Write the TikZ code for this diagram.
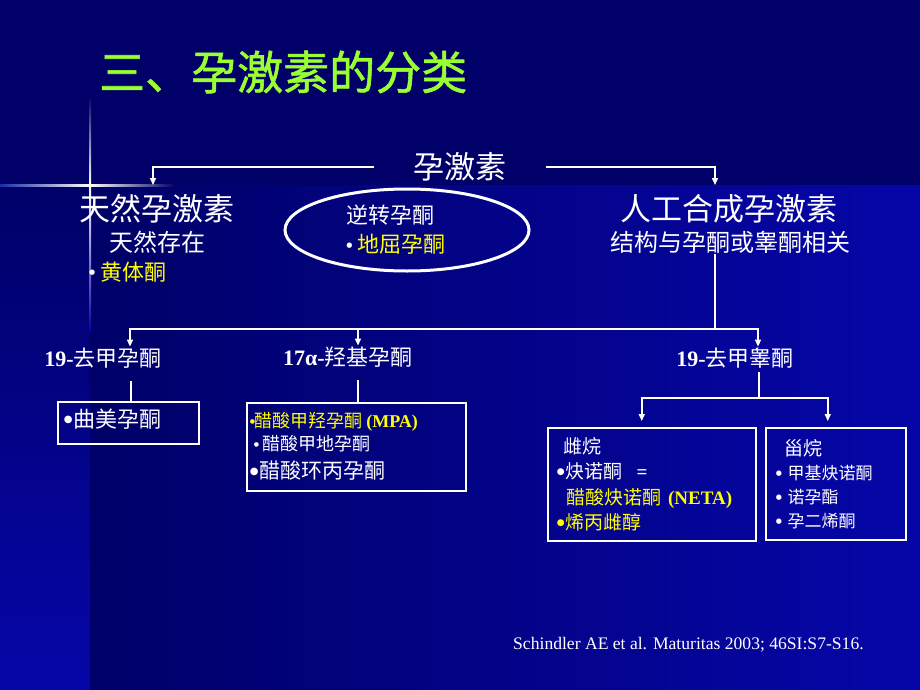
\documentclass[tikz,border=0pt]{standalone}
\usepackage{fontspec}
\setmainfont{Liberation Serif}
\newfontfamily\cjk{Noto Sans CJK SC}
\newfontfamily\cjktitle[FakeBold=1.2]{Noto Sans CJK SC}
\newfontfamily\symf{DejaVu Sans}
\usetikzlibrary{shapes.geometric,arrows.meta}
\setlength{\parindent}{0pt}
\definecolor{navy}{RGB}{0,0,104}
\definecolor{deepblue}{RGB}{6,6,168}
\definecolor{glowblue}{RGB}{60,110,255}
\definecolor{titlegreen}{RGB}{153,255,51}
\definecolor{hiyellow}{RGB}{255,255,0}
\newcommand{\latb}[1]{{\rmfamily\bfseries #1}}
\newcommand{\fs}[2]{\fontsize{#1}{#2}\selectfont}
% bullet: size, raise
\newcommand{\bul}[2]{\raisebox{#2}{\symf\fontsize{#1}{#1}\selectfont ●}}
\tikzset{
  cn/.style={font=\cjk, text=white, inner sep=1pt},
  bigcn/.style={cn, font=\cjk\fs{31}{36}, inner ysep=9pt},
  subcn/.style={cn, font=\cjk\fs{24}{28}},
  kind/.style={cn, font=\cjk\fs{22}{26}},
  wire/.style={draw=white, line width=1.5pt},
  arr/.style={wire, -{Triangle[length=7pt,width=6pt]}},
  listbox/.style={draw=white, line width=1.5pt, text=white, anchor=north west,
    inner ysep=0pt},
}
\begin{document}
\begin{tikzpicture}[x=1pt,y=-1pt]
  \useasboundingbox (0,0) rectangle (920,690);
  %background
  \fill[navy] (0,0) rectangle (920,690);
  \shade[left color=navy, right color=deepblue] (90,185) rectangle (920,690);
  \shade[top color=navy, bottom color=deepblue] (0,185) rectangle (90,690);
  %glowing cross
  \shade[left color=navy!60!glowblue, right color=white] (0,184.5) rectangle (90,186.5);
  \shade[left color=white, right color=navy] (90,184.5) rectangle (175,186.5);
  \shade[top color=navy, bottom color=white] (89,95) rectangle (91,185);
  \shade[top color=white, bottom color=deepblue] (89,185) rectangle (91,330);

  %title
  \node[anchor=west, font=\cjktitle\fs{46}{50}, text=titlegreen, inner sep=0pt]
    (title) at (99,72) {三、孕激素的分类};

  %top level
  \node[bigcn, inner xsep=39pt, inner ysep=1pt] (root) at (460,167) {孕激素};
  \node[bigcn, anchor=north] (nat) at (157,185) {天然孕激素};
  \node[subcn] (nat2) at (157,242) {天然存在};
  \node[kind, anchor=west] (nat3) at (88,272) {\bul{7}{5.8pt} \textcolor{hiyellow}{黄体酮}};
  \node[bigcn, anchor=north] (syn) at (729,185) {人工合成孕激素};
  \node[subcn] (syn2) at (730,242) {结构与孕酮或睾酮相关};

  %retro-progesterone
  \node[ellipse, draw=white, line width=3pt, minimum width=244pt, minimum height=82pt,
    inner sep=0pt, align=left, text=white, font=\cjk\fs{22}{29}] (retro) at (407,230)
    {逆转孕酮\\\bul{7}{5.8pt} \textcolor{hiyellow}{地屈孕酮}\hspace*{22pt}};

  \draw[arr] (root.west) -| ([xshift=-4pt]nat.north);
  \draw[arr] (root.east) -| ([xshift=-14pt]syn.north);

  %synthetic branches
  \coordinate (bus) at (715,329);
  \node[kind] (c19a) at (103,358) {\latb{19-}去甲孕酮};
  \node[kind] (c17) at (348,357) {\latb{17α-}羟基孕酮};
  \node[kind] (c19b) at (735,358) {\latb{19-}去甲睾酮};
  \draw[wire] (syn2.south -| bus) -- (bus);
  \draw[arr] (bus) -| ([xshift=27pt]c19a.north);
  \draw[arr] (bus) -| ([xshift=10pt]c17.north);
  \draw[arr] (bus) -| ([xshift=23pt]c19b.north);

  %boxes
  \node[listbox, text width=129pt, inner xsep=6pt, minimum height=42pt, font=\cjk\fs{22}{26}]
    (b1) at (57,401) {\bul{10}{4.6pt}\hspace{1.5pt}曲美孕酮\vspace*{8pt}};
  \node[listbox, text width=213pt, inner xsep=3pt, minimum height=88pt, font=\cjk]
    (b2) at (246,402)
    {\fs{18}{23}\textcolor{hiyellow}{\bul{6}{4.6pt}醋酸甲羟孕酮 \latb{(MPA)}}\par
     \fs{18}{23}\hspace*{4pt}\bul{6}{4.6pt} 醋酸甲地孕酮\par
     \fs{21}{28}\bul{10}{4.4pt}\hspace{1pt}醋酸环丙孕酮\par};
  \node[listbox, text width=192pt, inner xsep=8pt, minimum height=113pt, font=\cjk\fs{19}{25.5}]
    (b3) at (547,427)
    {\hspace*{8pt}雌烷\par
     \hspace*{1pt}\bul{9}{4pt}\hspace{1pt}炔诺酮\hspace{14pt}\latb{=}\par
     \hspace*{11pt}\textcolor{hiyellow}{醋酸炔诺酮 \latb{(NETA)}}\par
     \hspace*{1pt}\textcolor{hiyellow}{\bul{9}{4pt}\hspace{1pt}烯丙雌醇}\par};
  \node[listbox, text width=120pt, inner xsep=10pt, minimum height=112pt, font=\cjk\fs{17}{24}]
    (b4) at (765,427)
    {\hspace*{9pt}{\fs{19}{24}甾烷}\par
     \bul{7}{4pt} 甲基炔诺酮\par
     \bul{7}{4pt} 诺孕酯\par
     \bul{7}{4pt} 孕二烯酮\par};

  \draw[wire] ([xshift=28pt,yshift=-12pt]c19a.south) -- ([xshift=28pt]c19a.south |- b1.north);
  \draw[wire] ([xshift=10pt,yshift=-12pt]c17.south) -- ([xshift=10pt]c17.south |- b2.north);
  \coordinate (split) at (759,398);
  \draw[wire] ([xshift=24pt,yshift=-3pt]c19b.south) -- (split);
  \draw[arr, shorten >=6pt] (split) -| ([xshift=-10pt]b3.north);
  \draw[arr, shorten >=6pt] (split) -| ([xshift=-8pt]b4.north);

  %reference
  \node[anchor=west, text=white, font=\fs{17.6}{20}, inner sep=0pt] (cite) at (513,645)
    {Schindler AE et al. Maturitas 2003; 46SI:S7-S16.};
\end{tikzpicture}
\end{document}
